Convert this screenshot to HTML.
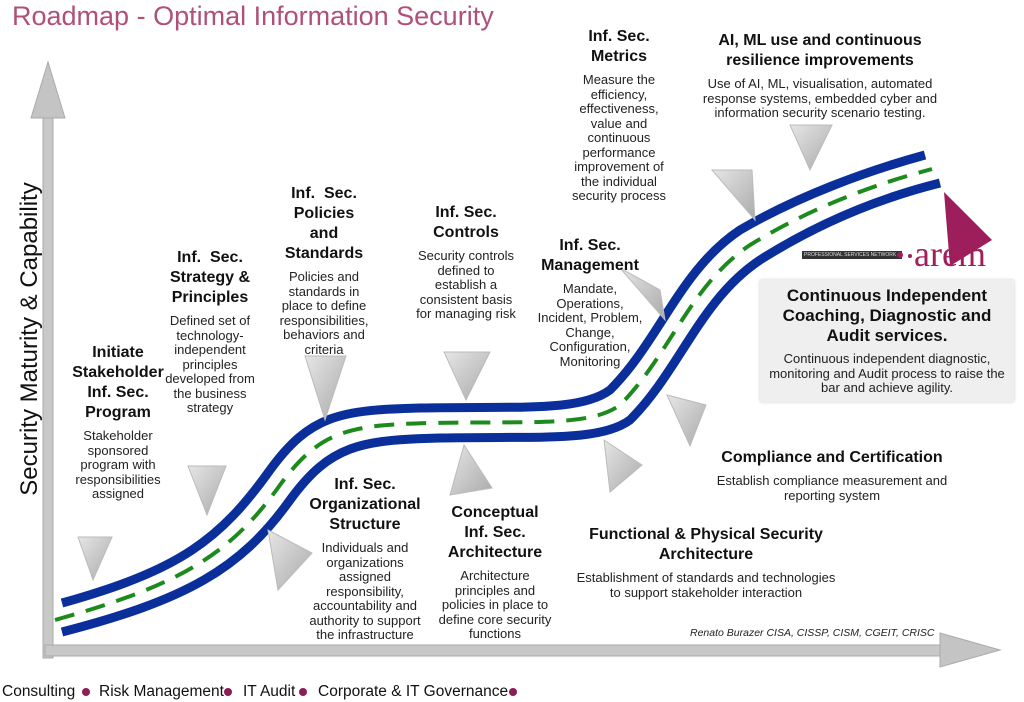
<!DOCTYPE html>
<html><head><meta charset="utf-8"><style>
body{margin:0;width:1024px;height:702px;background:#fff;position:relative;overflow:hidden;font-family:"Liberation Sans",Arial,sans-serif;color:#111}
.t{position:absolute;text-align:center;white-space:nowrap;transform:translateX(-50%)}
.t b{display:block;font-size:16px;line-height:20px;font-weight:bold}
.t span{display:block;font-size:13px;line-height:14.5px;margin-top:6px;color:#222}
.f{position:absolute;top:683px;font-size:15.5px;color:#111}
</style></head><body>
<div style="position:absolute;left:12px;top:1px;font-size:27px;color:#b0507a;font-family:'Liberation Sans',sans-serif;">Roadmap - Optimal Information Security</div>
<svg width="1024" height="702" style="position:absolute;left:0;top:0">
<defs><linearGradient id="g" x1="0" y1="0" x2="1" y2="1"><stop offset="0" stop-color="#e6e6e6"/><stop offset="1" stop-color="#aaa"/></linearGradient></defs>
<rect x="43" y="110" width="10" height="548" fill="#c8c8c8" stroke="#aaa"/>
<polygon points="48,62 31,118 65,118" fill="#c4c4c4" stroke="#aaa"/>
<rect x="45" y="645" width="905" height="11" fill="#c8c8c8" stroke="#aaa"/>
<polygon points="1000,650 940,633 940,667" fill="#c4c4c4" stroke="#aaa"/>
<g fill="none" stroke-width="9">
<path d="M62,603 C180,570 220,540 270,470 C310,415 340,410 420,408 C520,406 580,412 610,390 C660,340 680,270 740,230 C800,195 870,170 925,155" stroke="#0a2f9a"/>
<path d="M62,632 C185,600 240,570 290,500 C330,445 360,440 440,438 C540,436 600,442 630,420 C680,370 700,300 760,260 C820,222 880,198 940,183" stroke="#0a2f9a"/>
<path d="M55,620 C180,585 230,555 280,485 C320,430 350,425 430,423 C530,421 590,427 620,405 C670,355 690,285 750,245 C810,208 875,184 932,169" stroke="#1c8a1c" stroke-width="4" stroke-dasharray="20,12"/>
</g>
<g fill="url(#g)" stroke="#bbb">
<polygon points="78,537 112,537 93,580"/>
<polygon points="188,466 226,466 207,515"/>
<polygon points="268,530 312,553 278,590"/>
<polygon points="305,356 346,356 325,420"/>
<polygon points="444,352 490,352 466,400"/>
<polygon points="464,445 450,495 492,488"/>
<polygon points="604,440 642,465 610,492"/>
<polygon points="620,268 660,290 665,320"/>
<polygon points="667,395 706,405 690,446"/>
<polygon points="712,170 752,170 755,220"/>
<polygon points="790,125 832,125 810,170"/>
</g>
<polygon points="944,192 992,240 950,266" fill="#9c1f5c"/>
<circle cx="86" cy="692" r="4" fill="#8c1d55"/><circle cx="228" cy="692" r="4" fill="#8c1d55"/><circle cx="303" cy="692" r="4" fill="#8c1d55"/><circle cx="513" cy="692" r="4" fill="#8c1d55"/>
</svg>
<div style="position:absolute;left:-140px;top:325px;width:340px;text-align:center;transform:rotate(-90deg);font-size:24px;color:#111">Security Maturity &amp; Capability</div>
<div class="t" style="left:118px;top:343px"><b>Initiate<br>Stakeholder<br>Inf. Sec.<br>Program</b><span>Stakeholder<br>sponsored<br>program with<br>responsibilities<br>assigned</span></div>
<div class="t" style="left:210px;top:248px"><b>Inf.&nbsp; Sec.<br>Strategy &amp;<br>Principles</b><span>Defined set of<br>technology-<br>independent<br>principles<br>developed from<br>the business<br>strategy</span></div>
<div class="t" style="left:324px;top:184px"><b>Inf.&nbsp; Sec.<br>Policies<br>and<br>Standards</b><span>Policies and<br>standards in<br>place to define<br>responsibilities,<br>behaviors and<br>criteria</span></div>
<div class="t" style="left:466px;top:203px"><b>Inf. Sec.<br>Controls</b><span>Security controls<br>defined to<br>establish a<br>consistent basis<br>for managing risk</span></div>
<div class="t" style="left:590px;top:236px"><b>Inf. Sec.<br>Management</b><span>Mandate,<br>Operations,<br>Incident, Problem,<br>Change,<br>Configuration,<br>Monitoring</span></div>
<div class="t" style="left:619px;top:27px"><b>Inf. Sec.<br>Metrics</b><span>Measure the<br>efficiency,<br>effectiveness,<br>value and<br>continuous<br>performance<br>improvement of<br>the individual<br>security process</span></div>
<div class="t" style="left:820px;top:31px"><b>AI, ML use and continuous<br>resilience improvements</b><span>Use of AI, ML, visualisation, automated<br>response systems, embedded cyber and<br>information security scenario testing.</span></div>
<div class="t" style="left:365px;top:475px"><b>Inf. Sec.<br>Organizational<br>Structure</b><span>Individuals and<br>organizations<br>assigned<br>responsibility,<br>accountability and<br>authority to support<br>the infrastructure</span></div>
<div class="t" style="left:495px;top:503px"><b>Conceptual<br>Inf. Sec.<br>Architecture</b><span>Architecture<br>principles and<br>policies in place to<br>define core security<br>functions</span></div>
<div class="t" style="left:706px;top:525px"><b>Functional &amp; Physical Security<br>Architecture</b><span>Establishment of standards and technologies<br>to support stakeholder interaction</span></div>
<div class="t" style="left:832px;top:448px"><b>Compliance and Certification</b><span>Establish compliance measurement and<br>reporting system</span></div>
<div style="position:absolute;left:760px;top:280px;width:254px;height:122px;background:#efefef;box-shadow:0 0 3px #ccc"></div>
<div class="t" style="left:887px;top:286px"><b style="font-size:17px;line-height:20px">Continuous Independent<br>Coaching, Diagnostic and<br>Audit services.</b><span>Continuous independent diagnostic,<br>monitoring and Audit process to raise the<br>bar and achieve agility.</span></div>
<div style="position:absolute;left:802px;top:251px;width:98px;height:8px;background:#333;color:#ddd;font-size:5px;line-height:8px;padding-left:2px;white-space:nowrap;overflow:hidden">PROFESSIONAL SERVICES NETWORK</div>
<div style="position:absolute;left:897px;top:252px;width:6px;height:6px;border-radius:3px;background:#a01e5a"></div>
<div style="position:absolute;left:908px;top:254px;width:4px;height:4px;border-radius:2px;background:#a01e5a"></div>
<div style="position:absolute;left:914px;top:238px;font-family:'Liberation Serif',serif;font-size:36px;color:#a01e5a;line-height:32px">arem</div>
<div style="position:absolute;left:690px;top:627px;font-size:10.5px;font-style:italic;color:#222">Renato Burazer CISA, CISSP, CISM, CGEIT, CRISC</div>
<div class="f" style="left:2px">Consulting</div>
<div class="f" style="left:99px">Risk Management</div>
<div class="f" style="left:243px">IT Audit</div>
<div class="f" style="left:318px">Corporate &amp; IT Governance</div>
</body></html>
